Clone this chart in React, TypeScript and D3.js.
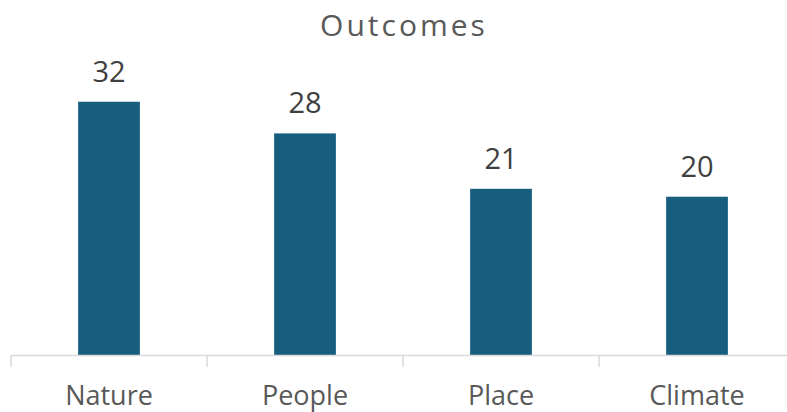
import { useEffect, useRef } from "react";
import * as d3 from "d3";

const categories = ["Nature", "People", "Place", "Climate"];
const outcomeCounts = [32, 28, 21, 20];
const chartTitle = "Outcomes";

export default function App() {
  const svgRef = useRef<SVGSVGElement>(null);
  const width = 787;
  const height = 412;

  useEffect(() => {
    if (!svgRef.current) return;
    const svg = d3.select(svgRef.current);
    svg.selectAll("*").remove();

    const font = "'Open Sans', sans-serif";
    const baseline = 355;

    const x = d3.scaleBand<string>()
      .domain(categories)
      .range([11, 795])
      .paddingInner(0.685)
      .paddingOuter(0.3425);

    const y = d3.scaleLinear().domain([0, 35]).range([baseline, 78]);

    // Title
    svg.append("text")
      .attr("x", 404)
      .attr("y", 36)
      .attr("text-anchor", "middle")
      .attr("font-family", font)
      .attr("font-size", "30px")
      .attr("letter-spacing", "3px")
      .attr("fill", "#595959")
      .text(chartTitle);

    // Bars
    svg.append("g")
      .selectAll("rect")
      .data(outcomeCounts)
      .join("rect")
      .attr("x", (_, i) => x(categories[i]) as number)
      .attr("y", d => y(d))
      .attr("width", x.bandwidth())
      .attr("height", d => baseline - y(d))
      .attr("fill", "#175D7E");

    // Value labels
    svg.append("g")
      .selectAll("text")
      .data(outcomeCounts)
      .join("text")
      .attr("x", (_, i) => (x(categories[i]) as number) + x.bandwidth() / 2)
      .attr("y", d => y(d) - 20)
      .attr("text-anchor", "middle")
      .attr("font-family", font)
      .attr("font-size", "29px")
      .attr("fill", "#404040")
      .text(d => d);

    // Category axis
    const step = x.step();
    const axis = svg.append("g");
    axis.append("line")
      .attr("x1", 11)
      .attr("x2", width)
      .attr("y1", baseline + 0.5)
      .attr("y2", baseline + 0.5)
      .attr("stroke", "#d9d9d9")
      .attr("stroke-width", 1.5);

    axis.selectAll("line.tick")
      .data(d3.range(categories.length + 1))
      .join("line")
      .attr("class", "tick")
      .attr("x1", i => 11 + i * step)
      .attr("x2", i => 11 + i * step)
      .attr("y1", baseline)
      .attr("y2", baseline + 12)
      .attr("stroke", "#d9d9d9")
      .attr("stroke-width", 1.5);

    axis.selectAll("text")
      .data(categories)
      .join("text")
      .attr("x", d => (x(d) as number) + x.bandwidth() / 2)
      .attr("y", 405)
      .attr("text-anchor", "middle")
      .attr("font-family", font)
      .attr("font-size", "27px")
      .attr("fill", "#595959")
      .text(d => d);
  }, []);

  return (
    <div style={{ position: "absolute", left: 0, top: 0, background: "#fff" }}>
      <svg ref={svgRef} width={width} height={height} style={{ display: "block" }} />
    </div>
  );
}
